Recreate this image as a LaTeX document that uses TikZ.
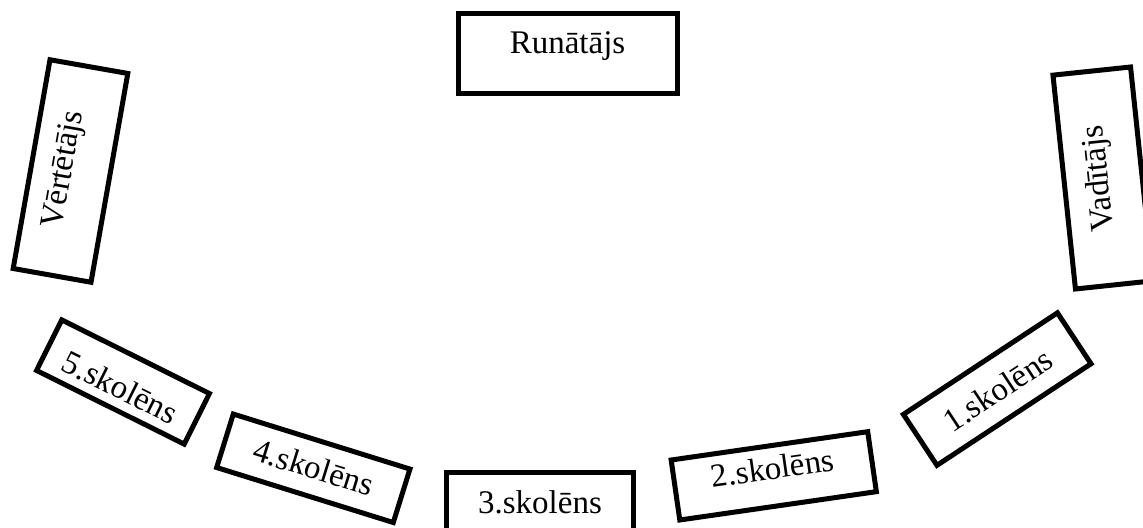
\documentclass[tikz,border=0pt]{standalone}
\usepackage{fontspec}
\setmainfont{Liberation Serif}
\begin{document}
\begin{tikzpicture}[x=1bp,y=1bp,
  seat/.style={draw=black,line width=5bp,rectangle,inner sep=0pt,fill=white},
  seattext/.style={inner sep=0pt,font=\fontsize{33bp}{38bp}\selectfont}]
\useasboundingbox (0,0) rectangle (1143,528);
% Runātājs
\begin{scope}[shift={(567.5,474)},transform shape]
  \node[seat,minimum width=219bp,minimum height=80bp] (run) at (0,0) {};
  \node[seattext] (runT) at (0,7.5) {Runātājs};
\end{scope}
% Vērtētājs
\begin{scope}[shift={(70.5,357)},rotate=80,transform shape]
  \node[seat,minimum width=212bp,minimum height=79bp] (vert) at (0,0) {};
  \node[seattext] (vertT) at (0,6) {Vērtētājs};
\end{scope}
% Vadītājs
\begin{scope}[shift={(1103,350)},rotate=96,transform shape]
  \node[seat,minimum width=215bp,minimum height=78bp] (vad) at (0,0) {};
  \node[seattext] (vadT) at (0,3) {Vadītājs};
\end{scope}
% 5.skolēns
\begin{scope}[shift={(123,146)},rotate=-26.5,transform shape]
  \node[seat,minimum width=165bp,minimum height=56.5bp] (s5) at (0,0) {};
  \node[seattext] (s5T) at (0,-6) {5.skolēns};
\end{scope}
% 4.skolēns
\begin{scope}[shift={(313.3,59.7)},rotate=-17.3,transform shape]
  \node[seat,minimum width=185bp,minimum height=56bp] (s4) at (0,0) {};
  \node[seattext] (s4T) at (0,1) {4.skolēns};
\end{scope}
% 3.skolēns
\begin{scope}[shift={(540,25.3)},transform shape]
  \node[seat,minimum width=187bp,minimum height=60bp] (s3) at (0,0) {};
  \node[seattext] (s3T) at (0,0) {3.skolēns};
\end{scope}
% 2.skolēns
\begin{scope}[shift={(773.75,52.15)},rotate=8.2,transform shape]
  \node[seat,minimum width=198.6bp,minimum height=60.6bp] (s2) at (0,0) {};
  \node[seattext] (s2T) at (0,8) {2.skolēns};
\end{scope}
% 1.skolēns
\begin{scope}[shift={(997.2,138.9)},rotate=33.4,transform shape]
  \node[seat,minimum width=184.5bp,minimum height=61bp] (s1) at (0,0) {};
  \node[seattext] (s1T) at (0,-1) {1.skolēns};
\end{scope}
\end{tikzpicture}
\end{document}
